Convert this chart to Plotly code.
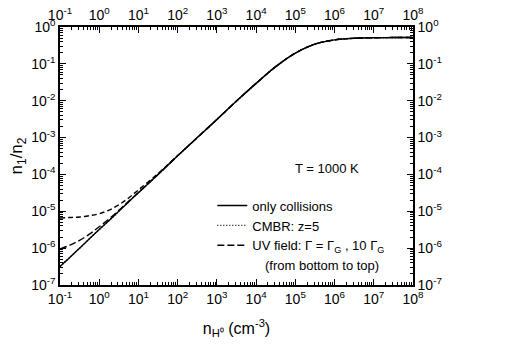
import plotly.graph_objects as go

# ---- data ----
n_H = [0.1, 0.178, 0.316, 0.562, 1, 1.78, 3.16, 5.62, 10, 31.6, 100, 316,
       1e3, 3.16e3, 1e4, 3.16e4, 1e5, 3.16e5, 1e6, 3.16e6, 1e7, 3.16e7, 1e8]

only_collisions = [3.2e-7, 5.6e-7, 1.0e-6, 1.8e-6, 3.2e-6, 5.6e-6, 1.0e-5, 1.8e-5,
                   3.2e-5, 1.0e-4, 3.2e-4, 1.0e-3, 3.1e-3, 9.8e-3, 2.95e-2, 8.4e-2,
                   0.196, 0.342, 0.446, 0.494, 0.512, 0.517, 0.519]

cmbr_z5 = [3.2e-7, 5.6e-7, 1.0e-6, 1.8e-6, 3.2e-6, 5.6e-6, 1.0e-5, 1.8e-5,
           3.2e-5, 1.0e-4, 3.2e-4, 1.0e-3, 3.1e-3, 9.8e-3, 2.95e-2, 8.4e-2,
           0.196, 0.342, 0.446, 0.494, 0.512, 0.517, 0.519]

uv_gamma_G = [9.5e-7, 1.2e-6, 1.63e-6, 2.4e-6, 3.8e-6, 6.2e-6, 1.06e-5, 1.86e-5,
              3.25e-5, 1.0e-4, 3.2e-4, 1.0e-3, 3.1e-3, 9.8e-3, 2.95e-2, 8.4e-2,
              0.196, 0.342, 0.446, 0.494, 0.512, 0.517, 0.519]

uv_10gamma_G = [6.6e-6, 6.8e-6, 7.0e-6, 7.6e-6, 8.6e-6, 1.08e-5, 1.5e-5, 2.3e-5,
                3.8e-5, 1.06e-4, 3.26e-4, 1.0e-3, 3.1e-3, 9.8e-3, 2.95e-2, 8.4e-2,
                0.196, 0.342, 0.446, 0.494, 0.512, 0.517, 0.519]

x_exps = list(range(-1, 9))
y_exps = list(range(-7, 1))
x_ticktext = ["10<sup>%d</sup>" % e for e in x_exps]
y_ticktext = ["10<sup>%d</sup>" % e for e in y_exps]

# ---- figure ----
FONT = "Liberation Sans, Arial, sans-serif"
x_tickvals = [10.0 ** e for e in x_exps]
y_tickvals = [10.0 ** e for e in y_exps]
x_minor = [m * 10.0 ** e for e in x_exps[:-1] for m in range(2, 10)]
y_minor = [m * 10.0 ** e for e in y_exps[:-1] for m in range(2, 10)]

fig = go.Figure()
fig.add_trace(go.Scatter(x=n_H, y=only_collisions, mode="lines", name="only collisions",
                         line=dict(color="black", width=1.4, shape="spline")))
fig.add_trace(go.Scatter(x=n_H, y=cmbr_z5, mode="lines", name="CMBR: z=5",
                         line=dict(color="black", width=1.4, dash="1px,2px", shape="spline")))
fig.add_trace(go.Scatter(x=n_H, y=uv_gamma_G, mode="lines",
                         name="UV field: \u0393 = \u0393<sub>G</sub> , 10 \u0393<sub>G</sub>",
                         line=dict(color="black", width=1.4, dash="7px,3px", shape="spline")))
fig.add_trace(go.Scatter(x=n_H, y=uv_10gamma_G, mode="lines", showlegend=False,
                         line=dict(color="black", width=1.4, dash="5px,3px", shape="spline")))
fig.add_trace(go.Scatter(x=[], y=[], xaxis="x2", yaxis="y2", showlegend=False))

xr = [-1, 8]
yr = [-7, 0]
common = dict(type="log", showgrid=False, zeroline=False, showline=True,
              linecolor="black", linewidth=1.5, ticks="inside", ticklen=6,
              tickwidth=1.2, tickcolor="black", tickmode="array", automargin=False,
              tickfont=dict(family=FONT, size=14, color="black"))
minor_style = dict(tickmode="array", ticks="inside", ticklen=3, tickwidth=1,
                   tickcolor="black", showgrid=False)

fig.update_layout(
    width=518, height=360,
    margin=dict(l=60, r=105, t=27, b=75),
    paper_bgcolor="white", plot_bgcolor="white",
    font=dict(family=FONT, size=13, color="black"),
    xaxis=dict(range=xr, tickvals=x_tickvals, ticktext=x_ticktext,
               minor=dict(tickvals=x_minor, **minor_style),
               title=dict(text="n<sub>H\u2070</sub> (cm<sup>-3</sup>)",
                          font=dict(family=FONT, size=16), standoff=17),
               **common),
    xaxis2=dict(range=xr, tickvals=x_tickvals, ticktext=x_ticktext, overlaying="x",
                side="top", anchor="y2",
                minor=dict(tickvals=x_minor, **minor_style),
                **common),
    yaxis=dict(range=yr, tickvals=y_tickvals, ticktext=y_ticktext,
               minor=dict(tickvals=y_minor, **minor_style),
               title=dict(text="n<sub>1</sub>/n<sub>2</sub>",
                          font=dict(family=FONT, size=17), standoff=4),
               **common),
    yaxis2=dict(range=yr, tickvals=y_tickvals, ticktext=y_ticktext, overlaying="y",
                side="right", anchor="x2",
                minor=dict(tickvals=y_minor, **minor_style),
                **common),
    legend=dict(x=0.4315, y=0.366, xanchor="left", yanchor="top",
                bgcolor="rgba(0,0,0,0)", font=dict(family=FONT, size=13),
                itemwidth=30, tracegroupgap=0),
    showlegend=True,
)

fig.add_annotation(text="T = 1000 K", xref="paper", yref="paper", x=0.756, y=0.45,
                   xanchor="center", yanchor="middle",
                   showarrow=False, font=dict(family=FONT, size=13))
fig.add_annotation(text="(from bottom to top)", xref="paper", yref="paper", x=0.742, y=0.074,
                   xanchor="center", yanchor="middle",
                   showarrow=False, font=dict(family=FONT, size=13))

fig.write_html("out.html", config={"displayModeBar": False},
               post_script="document.body.style.margin='0';document.body.style.overflow='hidden';")
